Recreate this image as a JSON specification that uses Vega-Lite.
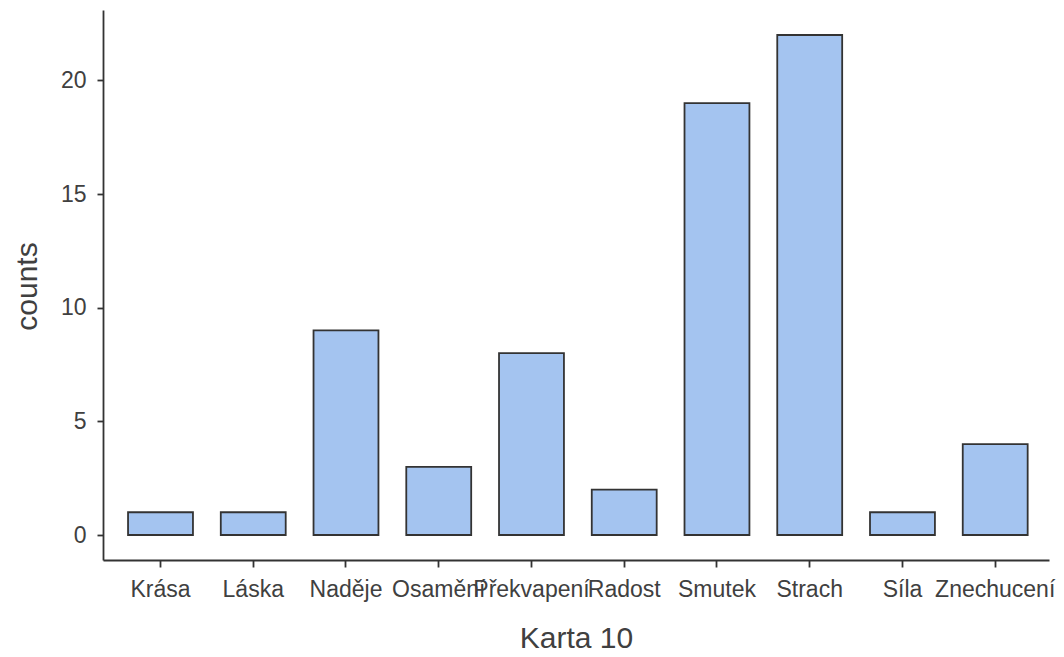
{
  "$schema": "https://vega.github.io/schema/vega-lite/v6.json",
  "autosize": "none",
  "width": 946,
  "height": 550,
  "padding": {"left": 103, "top": 10, "right": 15, "bottom": 97},
  "background": "white",
  "config": {
    "view": {"stroke": null},
    "font": "Liberation Sans"
  },
  "data": {
    "values": [
      {"emotion": "Krása", "count": 1},
      {"emotion": "Láska", "count": 1},
      {"emotion": "Naděje", "count": 9},
      {"emotion": "Osamění", "count": 3},
      {"emotion": "Překvapení", "count": 8},
      {"emotion": "Radost", "count": 2},
      {"emotion": "Smutek", "count": 19},
      {"emotion": "Strach", "count": 22},
      {"emotion": "Síla", "count": 1},
      {"emotion": "Znechucení", "count": 4}
    ]
  },
  "mark": {"type": "bar", "fill": "#a4c4f0", "stroke": "#333333", "strokeWidth": 1.8},
  "encoding": {
    "x": {
      "field": "emotion",
      "type": "nominal",
      "sort": null,
      "scale": {"paddingInner": 0.3, "paddingOuter": 0.25, "align": 0.54},
      "axis": {
        "title": "Karta 10",
        "titleFontSize": 30,
        "titleFontWeight": "normal",
        "titleColor": "#404040",
        "titleX": 473,
        "titleY": 87,
        "titleBaseline": "alphabetic",
        "titleAlign": "center",
        "labelAngle": 0,
        "labelFontSize": 23,
        "labelColor": "#404040",
        "labelPadding": 11,
        "labelOverlap": false,
        "labelLimit": 400,
        "labelFlush": false,
        "tickSize": 7,
        "tickWidth": 1.8,
        "tickColor": "#333333",
        "domainColor": "#333333",
        "domainWidth": 1.8,
        "grid": false
      }
    },
    "y": {
      "field": "count",
      "type": "quantitative",
      "scale": {"domain": [-1.1, 23.1], "nice": false, "zero": false},
      "axis": {
        "title": "counts",
        "titleFontSize": 30,
        "titleFontWeight": "normal",
        "titleColor": "#404040",
        "titleAngle": -90,
        "titleX": -67,
        "titleY": 276,
        "titleAlign": "center",
        "titleBaseline": "alphabetic",
        "values": [0, 5, 10, 15, 20],
        "labelFontSize": 23,
        "labelColor": "#404040",
        "labelPadding": 11,
        "tickSize": 6,
        "tickWidth": 1.8,
        "tickColor": "#333333",
        "domainColor": "#333333",
        "domainWidth": 1.8,
        "grid": false
      }
    }
  }
}
